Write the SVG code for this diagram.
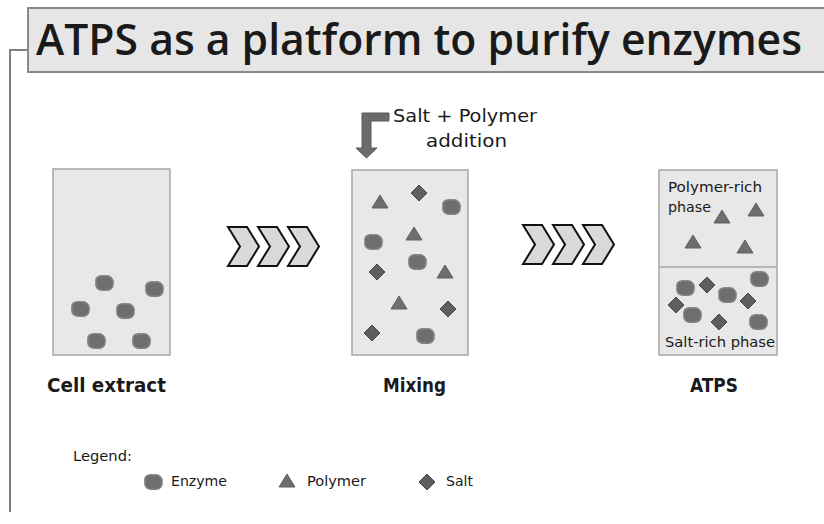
<svg xmlns="http://www.w3.org/2000/svg" xmlns:xlink="http://www.w3.org/1999/xlink" width="824" height="524" viewBox="0 0 824 524">
<style>
text{font-family:"DejaVu Sans","Open Sans",sans-serif;fill:#1a1a1a}
.box{fill:#e8e8e8;stroke:#a6a6a6;stroke-width:1.5}
.lbl{font-size:19px;font-weight:bold}
.small{font-size:14px}
.chev{fill:#d9d9d9;stroke:#111;stroke-width:2;stroke-linejoin:miter}
</style>
<defs>
<path id="enz" d="M-8,-1 C-9,-6 -4,-8 1,-7 C6,-8 10,-4 9,1 C9,6 5,8 0,7 C-5,8 -9,5 -8,-1 Z" fill="#6e6e6e" stroke="#828282" stroke-width="1.5"/>
<polygon id="pol" points="0,-7 8,6 -8,6" fill="#6e6e6e" stroke="#606060" stroke-width="1"/>
<polygon id="salt" points="0,-8 8,0 0,8 -8,0" fill="#5e5e5e" stroke="#4a4a4a" stroke-width="1"/>
<polygon id="chev" class="chev" points="0,0 19,0 31,19.5 19,39 0,39 12,19.5"/>
</defs>

<g id="frame">
<polyline points="28,50 10,50 10,512" fill="none" stroke="#7f7f7f" stroke-width="2"/>
</g>
<g id="title">
<path d="M826,8 H28 V72 H826" fill="#e6e6e6" stroke="#8a8a8a" stroke-width="2"/>
<text x="36" y="55" font-size="44" font-weight="600" textLength="766" lengthAdjust="spacingAndGlyphs" style="font-family:'Open Sans',sans-serif">ATPS as a platform to purify enzymes</text>
</g>

<g id="cell-extract">
<rect class="box" x="53" y="169" width="117" height="186"/>
<use xlink:href="#enz" x="104" y="283"/>
<use xlink:href="#enz" x="154" y="289"/>
<use xlink:href="#enz" x="80" y="309"/>
<use xlink:href="#enz" x="125" y="311"/>
<use xlink:href="#enz" x="96" y="341"/>
<use xlink:href="#enz" x="141" y="341"/>
<text class="lbl" x="47" y="392" textLength="119" lengthAdjust="spacingAndGlyphs">Cell extract</text>
</g>

<g id="mixing">
<rect class="box" x="352" y="170" width="116" height="185"/>
<use xlink:href="#pol" x="380" y="202"/>
<use xlink:href="#salt" x="419" y="193"/>
<use xlink:href="#enz" x="451" y="207"/>
<use xlink:href="#pol" x="414" y="234"/>
<use xlink:href="#enz" x="373" y="242"/>
<use xlink:href="#enz" x="417" y="262"/>
<use xlink:href="#salt" x="377" y="272"/>
<use xlink:href="#pol" x="445" y="272"/>
<use xlink:href="#pol" x="399" y="303"/>
<use xlink:href="#salt" x="448" y="309"/>
<use xlink:href="#salt" x="372" y="333"/>
<use xlink:href="#enz" x="425" y="336"/>
<text class="lbl" x="383" y="392" textLength="63" lengthAdjust="spacingAndGlyphs">Mixing</text>
</g>

<g id="addition">
<polygon points="389,113 362,113 362,148 356,148 366.5,158 377,148 371,148 371,121 389,121" fill="#6b6b6b" stroke="#5a5a5a" stroke-width="1"/>
<text x="393" y="122" font-size="18" textLength="144" lengthAdjust="spacingAndGlyphs">Salt + Polymer</text>
<text x="426" y="147" font-size="18" textLength="81" lengthAdjust="spacingAndGlyphs">addition</text>
</g>

<g id="atps">
<rect class="box" x="659" y="170" width="118" height="185"/>
<line x1="659" y1="267" x2="777" y2="267" stroke="#a6a6a6" stroke-width="1.5"/>
<text class="small" x="668" y="192" textLength="94" lengthAdjust="spacingAndGlyphs">Polymer-rich</text>
<text class="small" x="668" y="212" textLength="43" lengthAdjust="spacingAndGlyphs">phase</text>
<use xlink:href="#pol" x="722" y="217"/>
<use xlink:href="#pol" x="756" y="210"/>
<use xlink:href="#pol" x="693" y="242"/>
<use xlink:href="#pol" x="745" y="247"/>
<use xlink:href="#enz" x="685" y="288"/>
<use xlink:href="#salt" x="707" y="285"/>
<use xlink:href="#enz" x="759" y="279"/>
<use xlink:href="#enz" x="727" y="295"/>
<use xlink:href="#salt" x="676" y="305"/>
<use xlink:href="#salt" x="748" y="301"/>
<use xlink:href="#enz" x="692" y="315"/>
<use xlink:href="#salt" x="719" y="322"/>
<use xlink:href="#enz" x="758" y="322"/>
<text class="small" x="665" y="347" textLength="110" lengthAdjust="spacingAndGlyphs">Salt-rich phase</text>
<text class="lbl" x="690" y="392" textLength="48" lengthAdjust="spacingAndGlyphs">ATPS</text>
</g>

<g id="connectors">
<g id="chevrons-1">
<use xlink:href="#chev" x="228" y="227"/>
<use xlink:href="#chev" x="258" y="227"/>
<use xlink:href="#chev" x="288" y="227"/>
</g>
<g id="chevrons-2">
<use xlink:href="#chev" x="523" y="225"/>
<use xlink:href="#chev" x="553" y="225"/>
<use xlink:href="#chev" x="583" y="225"/>
</g>
</g>

<g id="legend">
<text class="small" x="73" y="461" textLength="59" lengthAdjust="spacingAndGlyphs">Legend:</text>
<use xlink:href="#enz" x="153" y="482"/>
<text class="small" x="171" y="486" textLength="56" lengthAdjust="spacingAndGlyphs">Enzyme</text>
<use xlink:href="#pol" x="287" y="481"/>
<text class="small" x="307" y="486" textLength="59" lengthAdjust="spacingAndGlyphs">Polymer</text>
<use xlink:href="#salt" x="427" y="482"/>
<text class="small" x="446" y="486" textLength="27" lengthAdjust="spacingAndGlyphs">Salt</text>
</g>
</svg>
